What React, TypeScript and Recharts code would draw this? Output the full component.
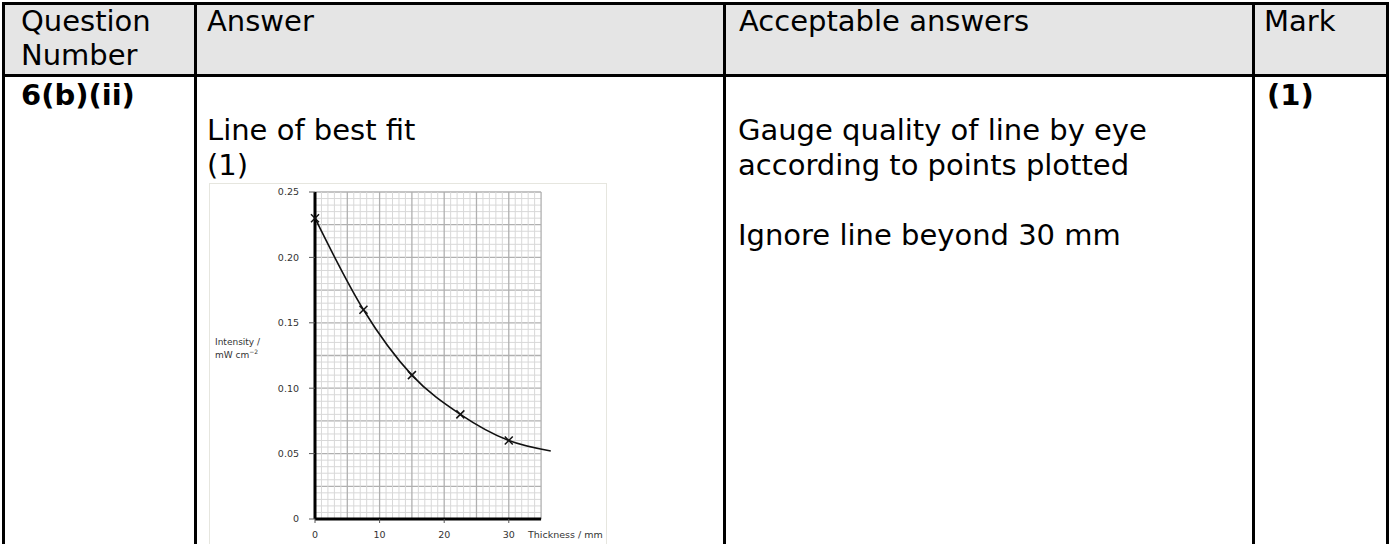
import React from 'react'
import {
  ComposedChart,
  Line,
  Scatter,
  XAxis,
  YAxis,
  ReferenceLine,
} from 'recharts'

// plotted points (thickness in mm, intensity in mW cm^-2)
const thickness = [0, 7.5, 15, 22.5, 30]
const intensity = [0.23, 0.16, 0.11, 0.08, 0.06]

// line of best fit (runs a little past the grid)
const curveThickness = [0, 7.5, 15, 22.5, 30, 36.5]
const curveIntensity = [0.23, 0.16, 0.11, 0.08, 0.06, 0.052]

const xTicks = [0, 10, 20, 30]
const yTicks = [0, 0.05, 0.1, 0.15, 0.2, 0.25]

// graph paper: 1 mm and 0.005 squares, darker every 5
const gridX = Array.from({ length: 36 }, (_, i) => i)
const gridY = Array.from({ length: 51 }, (_, i) => +(i * 0.005).toFixed(3))

const points = thickness.map((t, i) => ({ t, v: intensity[i] }))
const curve = curveThickness.map((t, i) => ({ t, v: curveIntensity[i] }))

const FONT = '"DejaVu Sans", Verdana, sans-serif'
const BORDER = '#000'

const Cross = (props: any) => {
  const { cx, cy } = props
  const s = 4
  return (
    <g stroke="#111" strokeWidth={1.5}>
      <line x1={cx - s} y1={cy - s} x2={cx + s} y2={cy + s} />
      <line x1={cx - s} y1={cy + s} x2={cx + s} y2={cy - s} />
    </g>
  )
}

function Graph() {
  return (
    <ComposedChart
      width={396}
      height={360}
      margin={{ top: 8, right: 52, bottom: 0, left: 0 }}
      style={{ fontFamily: FONT }}
    >
      <XAxis
        type="number"
        dataKey="t"
        domain={[0, 37]}
        ticks={xTicks}
        height={25}
        axisLine={false}
        tickSize={4}
        tickMargin={8}
        tickLine={{ stroke: '#555' }}
        tick={{ fontSize: 9.5, fill: '#333' }}
        label={{
          content: ({ viewBox }: any) => (
            <text x={viewBox.x + 213} y={viewBox.y + 19} fontSize={9.5} fill="#333">
              Thickness / mm
            </text>
          ),
        }}
      />
      <YAxis
        type="number"
        dataKey="v"
        domain={[0, 0.25]}
        ticks={yTicks}
        width={105}
        tickFormatter={(v: number) => (v === 0 ? '0' : v.toFixed(2))}
        axisLine={{ stroke: '#000', strokeWidth: 3 }}
        tickSize={6}
        tickMargin={10}
        tickLine={{ stroke: '#555' }}
        tick={{ fontSize: 9.5, fill: '#333' }}
        label={{
          content: ({ viewBox }: any) => (
            <text fontSize={9} fill="#333">
              <tspan x={viewBox.x + 5} y={viewBox.y + 153}>Intensity /</tspan>
              <tspan x={viewBox.x + 5} y={viewBox.y + 166}>
                mW cm<tspan fontSize={6} dy={-4}>−2</tspan>
              </tspan>
            </text>
          ),
        }}
      />

      {gridY.map((v, i) => (
        <ReferenceLine
          key={`h-${i}`}
          segment={[{ x: 0, y: v }, { x: 35, y: v }]}
          stroke={i % 5 === 0 ? '#b0b0b0' : '#d8d8d8'}
          strokeWidth={i % 5 === 0 ? 1.3 : 1}
        />
      ))}
      {gridX.map((x, i) => (
        <ReferenceLine
          key={`v-${i}`}
          segment={[{ x, y: 0 }, { x, y: 0.25 }]}
          stroke={i % 5 === 0 ? '#b0b0b0' : '#d8d8d8'}
          strokeWidth={i % 5 === 0 ? 1.3 : 1}
        />
      ))}
      <ReferenceLine
        segment={[{ x: 0, y: 0 }, { x: 35, y: 0 }]}
        stroke="#000"
        strokeWidth={3}
      />

      <Line
        data={curve}
        dataKey="v"
        type="monotone"
        stroke="#111"
        strokeWidth={1.6}
        dot={false}
        activeDot={false}
        isAnimationActive={false}
      />
      <Scatter data={points} dataKey="v" shape={Cross} isAnimationActive={false} />
    </ComposedChart>
  )
}

const hLine = (top: number, left: number, width: number) => (
  <div style={{ position: 'absolute', top, left, width, height: 3, background: BORDER }} />
)
const vLine = (left: number, top: number, height: number) => (
  <div style={{ position: 'absolute', top, left, width: 3, height, background: BORDER }} />
)

export default function App() {
  const txt: React.CSSProperties = {
    position: 'absolute',
    fontFamily: FONT,
    fontSize: 29,
    color: '#000',
    whiteSpace: 'nowrap',
  }
  return (
    <div
      style={{
        position: 'absolute',
        left: 0,
        top: 0,
        width: 1389,
        height: 544,
        overflow: 'hidden',
        background: '#fff',
      }}
    >
      {/* header band */}
      <div style={{ position: 'absolute', left: 3, top: 3, width: 1384, height: 72, background: '#e5e5e5' }} />

      {hLine(2, 2, 1387)}
      {hLine(74, 2, 1387)}
      {vLine(2, 2, 542)}
      {vLine(194, 2, 542)}
      {vLine(723, 2, 542)}
      {vLine(1252, 2, 542)}
      {vLine(1386, 2, 542)}

      {/* header texts */}
      <div style={{ ...txt, left: 21, top: 4, lineHeight: '34px' }}>
        Question<br />Number
      </div>
      <div style={{ ...txt, left: 207, top: 4, lineHeight: '34px' }}>Answer</div>
      <div style={{ ...txt, left: 739, top: 4, lineHeight: '34px' }}>Acceptable answers</div>
      <div style={{ ...txt, left: 1264, top: 4, lineHeight: '34px' }}>Mark</div>

      {/* body texts */}
      <div style={{ ...txt, left: 21, top: 78, lineHeight: '35px', fontWeight: 'bold' }}>6(b)(ii)</div>
      <div style={{ ...txt, left: 207, top: 78, lineHeight: '35px' }}>
        <br />Line of best fit<br />(1)
      </div>
      <div style={{ ...txt, left: 738, top: 78, lineHeight: '35px' }}>
        <br />Gauge quality of line by eye<br />according to points plotted<br /><br />Ignore line beyond 30 mm
      </div>
      <div style={{ ...txt, left: 1267, top: 78, lineHeight: '35px', fontWeight: 'bold' }}>(1)</div>

      {/* embedded graph */}
      <div
        style={{
          position: 'absolute',
          left: 209,
          top: 183,
          width: 396,
          height: 360,
          border: '1px solid #e6e6df',
          background: '#fff',
        }}
      >
        <Graph />
      </div>
    </div>
  )
}
